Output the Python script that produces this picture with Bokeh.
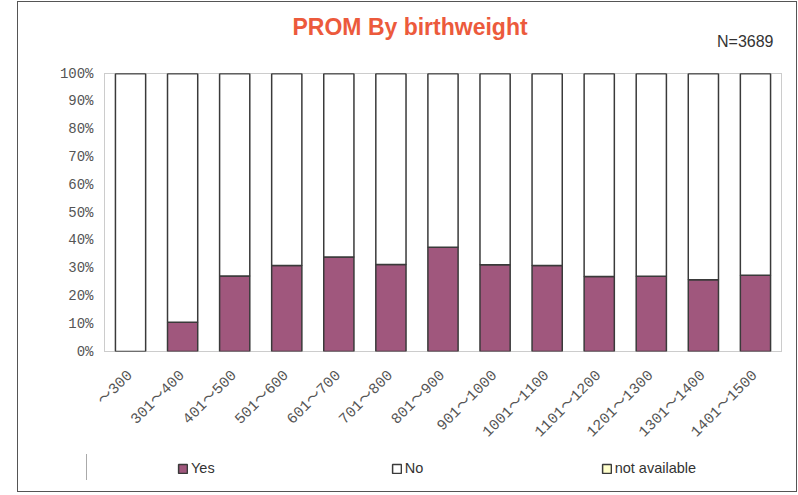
import math
from bokeh.plotting import figure
from bokeh.layouts import column
from bokeh.models import (ColumnDataSource, FactorRange, Legend, LegendItem, Title,
                          FixedTicker, InlineStyleSheet)
from bokeh.embed import file_html
from bokeh.resources import INLINE

categories = ["～300", "301～400", "401～500", "501～600", "601～700", "701～800",
              "801～900", "901～1000", "1001～1100", "1101～1200", "1201～1300",
              "1301～1400", "1401～1500"]
yes = [0.0, 10.5, 27.2, 30.9, 34.0, 31.3, 37.5, 31.2, 30.9, 27.0, 27.1, 25.8, 27.4]
no = [100.0, 89.5, 72.8, 69.1, 66.0, 68.7, 62.5, 68.8, 69.1, 73.0, 72.9, 74.2, 72.6]
not_available = [0.0, 0.0, 0.0, 0.0, 0.0, 0.0, 0.0, 0.0, 0.0, 0.0, 0.0, 0.0, 0.0]
series_names = ["Yes", "No", "not available"]
series_colors = ["#A0577D", "#FFFFFF", "#FFFFCC"]
y_ticks = [0, 10, 20, 30, 40, 50, 60, 70, 80, 90, 100]
y_labels = ["0%", "10%", "20%", "30%", "40%", "50%", "60%", "70%", "80%", "90%", "100%"]
title_text = "PROM By birthweight"
n_text = "N=3689"

src = ColumnDataSource(dict(cat=categories, yes=yes, no=no, na=not_available))

# ---- main chart ----
p = figure(x_range=FactorRange(*categories), y_range=(0, 100), width=798, height=450,
           output_backend="svg", toolbar_location=None, title=title_text,
           min_border_left=104, min_border_right=17, min_border_top=73, min_border_bottom=99)
p.background_fill_color = "white"
p.border_fill_color = "white"
p.outline_line_color = "#999999"
p.outline_line_dash = "1 1"
p.outline_line_width = 1
p.xgrid.grid_line_color = None
p.ygrid.grid_line_color = None
p.x_range.range_padding = 0

p.title.align = "left"
p.title.offset = 188
p.title.standoff = -64
p.title.text_font = "Liberation Sans"
p.title.text_font_style = "bold"
p.title.text_font_size = "23px"
p.title.text_color = "#EC5A3C"

p.add_layout(Title(text=n_text, align="right", offset=8, standoff=47,
                   text_font="Liberation Sans", text_font_style="normal",
                   text_font_size="16px", text_color="#333333"), "above")

p.vbar_stack(["yes", "no", "na"], x="cat", width=0.58, source=src,
             fill_color=series_colors, line_color="#3a3a3a", line_width=1.5)

p.yaxis.ticker = FixedTicker(ticks=y_ticks)
p.yaxis.major_label_overrides = dict(zip(y_ticks, y_labels))
p.yaxis.axis_line_color = None
p.yaxis.major_tick_line_color = None
p.yaxis.minor_tick_line_color = None
p.yaxis.major_tick_out = 0
p.yaxis.major_label_standoff = 11
p.yaxis.major_label_text_font = "Liberation Mono"
p.yaxis.major_label_text_font_size = "14px"
p.yaxis.major_label_text_color = "#555555"

p.xaxis.axis_line_color = None
p.xaxis.major_tick_line_color = None
p.xaxis.minor_tick_line_color = None
p.xaxis.major_tick_out = 0
p.xaxis.major_label_orientation = math.pi / 4
p.xaxis.major_label_standoff = 22
p.xaxis.major_label_text_font = "'Liberation Mono', 'Noto Sans CJK JP'"
p.xaxis.major_label_text_font_size = "15px"
p.xaxis.major_label_text_color = "#555555"

p.stylesheets = [InlineStyleSheet(css="""
:host { position: relative; }
:host::after { content: ""; position: absolute; left: 17px; top: 1px; width: 780px; height: 449px;
  box-sizing: border-box; border: 1.5px solid #555555; border-bottom: none;
  pointer-events: none; z-index: 10; }
""")]

# ---- legend strip: hidden copies of the series, legend inside its own frame ----
q = figure(x_range=FactorRange(*categories), y_range=(0, 100), width=798, height=45,
           output_backend="svg", toolbar_location=None,
           x_axis_type=None, y_axis_type=None,
           min_border_left=0, min_border_right=0, min_border_top=0, min_border_bottom=0)
q.outline_line_color = None
q.xgrid.grid_line_color = None
q.ygrid.grid_line_color = None
q.background_fill_color = "white"
q.border_fill_color = "white"
rs = q.vbar_stack(["yes", "no", "na"], x="cat", width=0.58, source=src,
                  fill_color=series_colors, line_color="#3a3a3a", line_width=1.5)
for r in rs:
    r.visible = False

legend = Legend(items=[LegendItem(label=series_names[i], renderers=[rs[i]]) for i in range(3)],
                orientation="horizontal", location=(73, 19),
                label_text_font="Liberation Sans", label_text_font_size="14.5px",
                label_text_color="#333333", glyph_width=11, glyph_height=11,
                label_standoff=3, spacing=176, padding=0, margin=0,
                border_line_color=None, background_fill_alpha=0,
                inactive_fill_alpha=0)
q.add_layout(legend, "center")

q.stylesheets = [InlineStyleSheet(css="""
:host { position: relative; }
:host::after { content: ""; position: absolute; left: 17px; top: 0px; width: 780px; height: 42px;
  box-sizing: border-box; border: 1.5px solid #555555; border-top: none;
  pointer-events: none; z-index: 10; }
:host::before { content: ""; position: absolute; left: 86px; top: 4px; width: 0px; height: 26px;
  border-left: 1px solid #aaaaaa; pointer-events: none; z-index: 10; }
""")]

page = column(p, q, spacing=0)
open("out.html", "w").write(file_html(page, INLINE))
